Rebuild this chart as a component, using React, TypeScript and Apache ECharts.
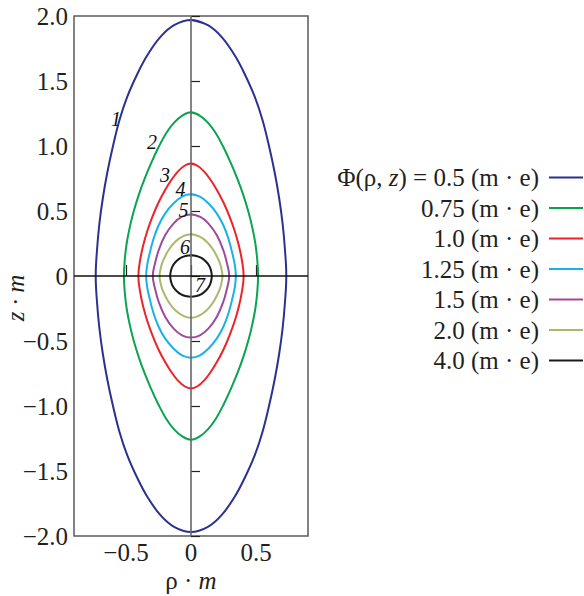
import React, { useEffect, useRef } from 'react';
import * as echarts from 'echarts';

// Contour levels Φ(ρ, z) in (m · e)
const levelNames = ['0.5', '0.75', '1.0', '1.25', '1.5', '2.0', '4.0'];
const levelColors = ['#2b3190', '#0aa44f', '#ee2228', '#18b1e8', '#9e4a98', '#adb76c', '#1a1a1a'];

// Upper-right quadrant of each contour: [ρ·m, z·m], from the top (ρ = 0) to the side (z = 0)
const quad05: number[][] = [[0, 1.97], [0.13, 1.93], [0.235, 1.84], [0.335, 1.70], [0.41, 1.56], [0.49, 1.38], [0.55, 1.20], [0.6, 1.0], [0.643, 0.8], [0.678, 0.6], [0.705, 0.4], [0.723, 0.2], [0.733, 0]];
const quad075: number[][] = [[0, 1.259], [0.07, 1.232], [0.13, 1.18], [0.19, 1.10], [0.25, 0.99], [0.31, 0.86], [0.36, 0.74], [0.40, 0.63], [0.44, 0.5], [0.47, 0.38], [0.495, 0.25], [0.51, 0.12], [0.516, 0]];
const quad10: number[][] = [[0, 0.865], [0.05, 0.848], [0.1, 0.805], [0.15, 0.74], [0.2, 0.66], [0.25, 0.565], [0.295, 0.46], [0.335, 0.35], [0.368, 0.235], [0.392, 0.118], [0.405, 0]];
const quad125: number[][] = [[0, 0.628], [0.069, 0.61], [0.133, 0.559], [0.198, 0.482], [0.248, 0.392], [0.287, 0.29], [0.321, 0.162], [0.338, 0.08], [0.345, 0]];
const quad15: number[][] = [[0, 0.474], [0.069, 0.456], [0.133, 0.405], [0.198, 0.315], [0.248, 0.2], [0.276, 0.1], [0.294, 0]];
const quad20: number[][] = [[0, 0.321], [0.056, 0.308], [0.121, 0.264], [0.172, 0.2], [0.218, 0.11], [0.235, 0.05], [0.242, 0]];
const quad40: number[][] = [[0, 0.16], [0.042, 0.154], [0.08, 0.139], [0.113, 0.113], [0.139, 0.08], [0.154, 0.042], [0.16, 0]];
const quadrants = [quad05, quad075, quad10, quad125, quad15, quad20, quad40];

// Curve number labels: [ρ, z, text]
const curveLabels: (number | string)[][] = [
  [-0.577, 1.21, '1'], [-0.30, 1.03, '2'], [-0.2, 0.777, '3'], [-0.08, 0.672, '4'],
  [-0.058, 0.505, '5'], [-0.046, 0.226, '6'], [0.069, -0.069, '7'],
];

const xTicks = [-0.5, 0, 0.5];

function closedLoop(q: number[][]): number[][] {
  const ur = q.map(([r, z]) => [r, z]);
  const lr = q.slice().reverse().slice(1).map(([r, z]) => [r, -z]);
  const ll = q.slice(1).map(([r, z]) => [-r, -z]);
  const ul = q.slice().reverse().slice(1).map(([r, z]) => [-r, z]);
  const loop = [...ur, ...lr, ...ll, ...ul];
  loop.push(ur[1]);
  return loop;
}

export default function App() {
  const ref = useRef<HTMLDivElement>(null);
  useEffect(() => {
    const chart = echarts.init(ref.current!, null, { renderer: 'svg' });
    const serif = '"Liberation Serif", "Times New Roman", serif';
    const ink = '#231f20';
    const fs = 25;
    const fmt = (v: number) => (v === 0 ? '0' : (v < 0 ? '\u2212' : '') + Math.abs(v).toFixed(1));

    const curveSeries = quadrants.map((q, i) => ({
      type: 'line',
      name: levelNames[i],
      data: closedLoop(q),
      smooth: 0.4,
      symbol: 'none',
      lineStyle: { color: levelColors[i], width: 2 },
      itemStyle: { color: levelColors[i] },
      z: 3,
    }));

    const option: any = {
      animation: false,
      grid: {
        left: 74, top: 16, width: 234, height: 520,
        show: true, borderColor: '#5a5a5a', borderWidth: 1.5, backgroundColor: 'transparent',
      },
      xAxis: {
        type: 'value', min: -0.9, max: 0.9,
        axisLine: { show: false },
        splitLine: { show: false },
        axisTick: { show: true, inside: true, length: 11, customValues: xTicks, lineStyle: { color: '#222', width: 1.2 } },
        axisLabel: { customValues: xTicks, formatter: fmt, fontFamily: serif, fontSize: fs, color: ink, margin: 4 },
      },
      yAxis: {
        type: 'value', min: -2, max: 2, interval: 0.5,
        axisLine: { show: false },
        splitLine: { show: false },
        axisTick: { show: true, inside: true, length: 9, lineStyle: { color: '#222', width: 1.2 } },
        axisLabel: { formatter: fmt, fontFamily: serif, fontSize: fs, color: ink, margin: 6 },
      },
      legend: {
        data: levelNames,
        orient: 'vertical',
        right: 1, top: 165,
        padding: 0,
        align: 'right',
        icon: 'rect',
        itemWidth: 34, itemHeight: 2, itemGap: 5.5,
        selectedMode: false,
        formatter: (name: string) => (name === levelNames[0]
          ? `\u03a6(\u03c1, {i|z}) = ${name} (m \u00b7 e)`
          : `${name} (m \u00b7 e)`),
        textStyle: {
          fontFamily: serif, fontSize: fs, color: ink, lineHeight: 24, padding: [0, 5, 0, 0],
          rich: { i: { fontFamily: serif, fontSize: fs, fontStyle: 'italic', color: ink, lineHeight: 24 } },
        },
      },
      graphic: [
        {
          type: 'text', x: 191, y: 580,
          style: {
            text: '\u03c1 \u00b7 {i|m}', align: 'center', verticalAlign: 'middle',
            fontFamily: serif, fontSize: fs, fill: ink,
            rich: { i: { fontFamily: serif, fontSize: fs, fontStyle: 'italic' } },
          },
        },
        {
          type: 'text', x: 15, y: 298, rotation: Math.PI / 2,
          style: {
            text: 'z \u00b7 m', align: 'center', verticalAlign: 'middle',
            fontFamily: serif, fontSize: fs, fontStyle: 'italic', fill: ink,
          },
        },
      ],
      series: [
        ...curveSeries,
        {
          type: 'scatter',
          name: 'labels',
          data: curveLabels,
          symbolSize: 0,
          silent: true,
          itemStyle: { opacity: 1 },
          z: 4,
          label: {
            show: true, position: [0, 0], align: 'center', verticalAlign: 'middle',
            formatter: (p: any) => p.value[2],
            fontFamily: serif, fontSize: 20, lineHeight: 18, fontStyle: 'italic', color: '#111',
            opacity: 1, textBorderWidth: 0,
          },
          markLine: {
            silent: true, symbol: 'none', label: { show: false }, z: 5,
            data: [
              { xAxis: 0, lineStyle: { color: '#666', width: 1.6, type: 'solid' } },
              { yAxis: 0, lineStyle: { color: '#111', width: 1.6, type: 'solid' } },
            ],
          },
        },
      ],
    };
    chart.setOption(option);
    return () => chart.dispose();
  }, []);
  return <div ref={ref} style={{ position: 'absolute', left: 0, top: 0, width: 584, height: 596 }} />;
}
